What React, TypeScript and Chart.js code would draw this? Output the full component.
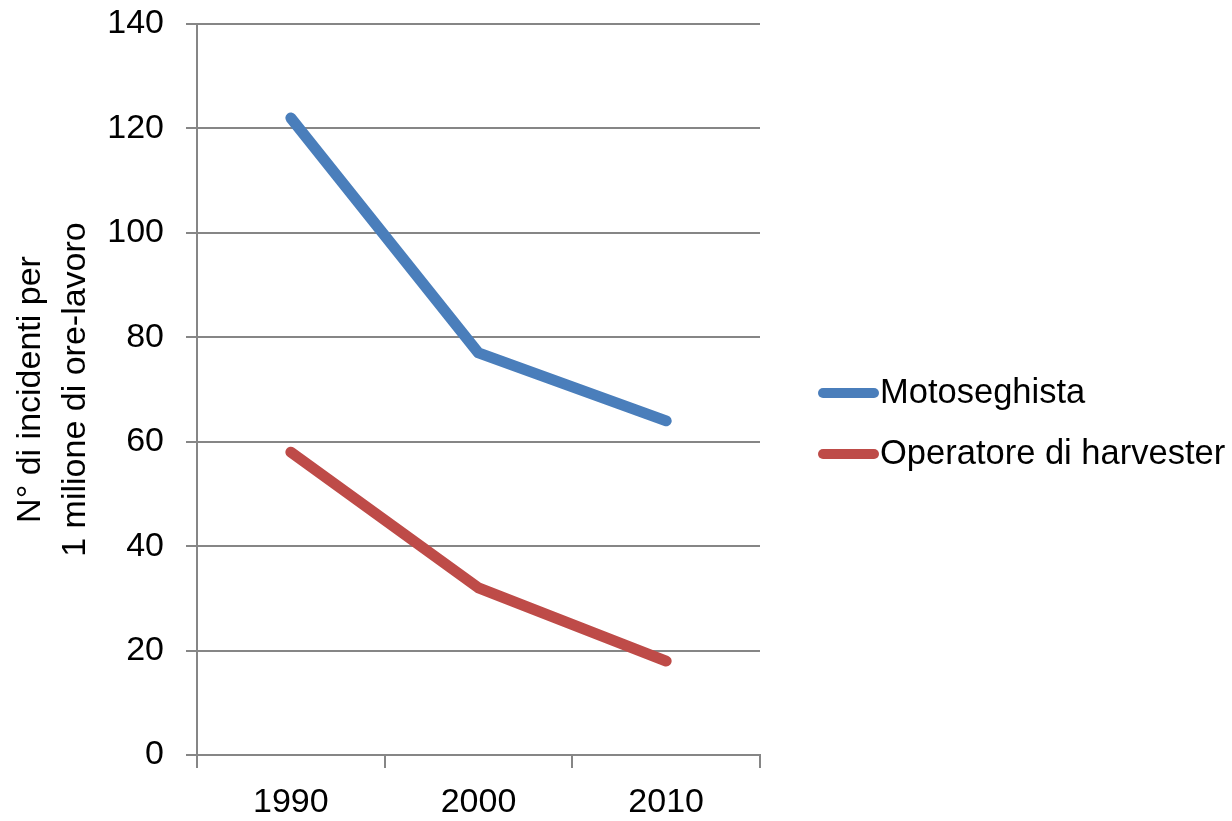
import React, { useEffect, useRef } from "react";
import { Chart, registerables } from "chart.js";

Chart.register(...registerables);

const categories = ["1990", "2000", "2010"];
const motoseghista = [122, 77, 64];
const operatoreHarvester = [58, 32, 18];
const seriesLabels = ["Motoseghista", "Operatore di harvester"];
const yTitle = ["N° di incidenti per", "1 milione di ore-lavoro"];

const FONT = "'Liberation Sans', Arial, sans-serif";
const GRID = "#868686";

const legendPlugin = {
  id: "customLegend",
  afterDraw(chart: any) {
    const ctx = chart.ctx;
    const ds = chart.data.datasets;
    ctx.save();
    ds.forEach((d: any, i: number) => {
      const y = 393 + i * 61;
      ctx.strokeStyle = d.borderColor;
      ctx.lineWidth = 10;
      ctx.lineCap = "round";
      ctx.beginPath();
      ctx.moveTo(823, y);
      ctx.lineTo(874, y);
      ctx.stroke();
      ctx.fillStyle = "#000";
      ctx.font = `34.5px ${FONT}`;
      ctx.textBaseline = "middle";
      ctx.textAlign = "left";
      ctx.fillText(d.label, 880, y);
    });
    ctx.restore();
  },
};

export default function App() {
  const ref = useRef<HTMLCanvasElement>(null);
  useEffect(() => {
    const chart = new Chart(ref.current!, {
      type: "line",
      data: {
        labels: categories,
        datasets: [
          {
            label: seriesLabels[0],
            data: motoseghista,
            borderColor: "#4A7EBB",
            backgroundColor: "#4A7EBB",
            borderWidth: 11,
            borderCapStyle: "round",
            borderJoinStyle: "round",
            pointRadius: 0,
            tension: 0,
          },
          {
            label: seriesLabels[1],
            data: operatoreHarvester,
            borderColor: "#BE4B48",
            backgroundColor: "#BE4B48",
            borderWidth: 11,
            borderCapStyle: "round",
            borderJoinStyle: "round",
            pointRadius: 0,
            tension: 0,
          },
        ],
      },
      options: {
        responsive: false,
        animation: false,
        devicePixelRatio: 1,
        layout: { padding: { top: 24, right: 472, left: 0, bottom: 0 } },
        plugins: { legend: { display: false }, tooltip: { enabled: false } },
        scales: {
          x: {
            offset: true,
            grid: {
              offset: true,
              drawOnChartArea: false,
              drawTicks: true,
              tickLength: 13,
              color: GRID,
              lineWidth: 2,
            },
            border: { display: true, color: GRID, width: 2 },
            ticks: {
              color: "#000",
              font: { family: FONT, size: 34 },
              padding: 14,
              maxRotation: 0,
            },
            afterFit(scale: any) {
              scale.height = 66;
            },
          },
          y: {
            min: 0,
            max: 140,
            ticks: {
              stepSize: 20,
              color: "#000",
              font: { family: FONT, size: 34, lineHeight: 1.2 },
              padding: 22,
            },
            grid: {
              color: GRID,
              lineWidth: 2,
              tickLength: 11,
            },
            border: { display: true, color: GRID, width: 2 },
            title: {
              display: true,
              text: yTitle,
              color: "#000",
              font: { family: FONT, size: 34, lineHeight: 1.32 },
              padding: { top: 8, bottom: 0 },
            },
            afterFit(scale: any) {
              scale.width = 197;
              scale.paddingTop = 0;
              scale.paddingBottom = 0;
            },
          },
        },
      },
      plugins: [legendPlugin],
    });
    return () => chart.destroy();
  }, []);
  return (
    <div style={{ position: "fixed", left: 0, top: 0, width: 1232, height: 821, background: "#fff" }}>
      <canvas ref={ref} width={1232} height={821} />
    </div>
  );
}
